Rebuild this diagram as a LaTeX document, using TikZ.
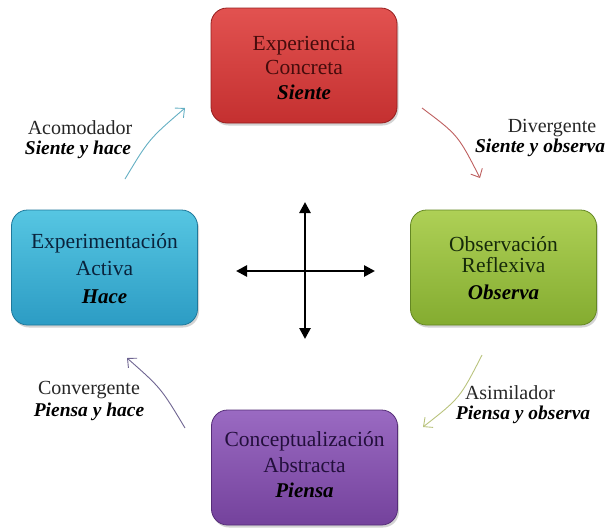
\documentclass[tikz,border=0pt]{standalone}
\usepackage{fontspec}
\setmainfont{Liberation Serif}
\usetikzlibrary{arrows.meta,shadows}
\definecolor{redT}{RGB}{226,82,80}
\definecolor{redB}{RGB}{196,48,48}
\definecolor{redD}{RGB}{150,30,30}
\definecolor{redX}{RGB}{70,12,12}
\definecolor{grnT}{RGB}{174,208,86}
\definecolor{grnB}{RGB}{132,172,48}
\definecolor{grnD}{RGB}{100,135,35}
\definecolor{grnX}{RGB}{22,42,10}
\definecolor{bluT}{RGB}{86,198,226}
\definecolor{bluB}{RGB}{44,156,196}
\definecolor{bluD}{RGB}{30,120,155}
\definecolor{bluX}{RGB}{10,35,60}
\definecolor{purT}{RGB}{154,106,194}
\definecolor{purB}{RGB}{116,66,156}
\definecolor{purD}{RGB}{85,45,120}
\definecolor{purX}{RGB}{35,15,60}
\definecolor{arrTeal}{RGB}{100,175,195}
\definecolor{arrRed}{RGB}{190,95,95}
\definecolor{arrPur}{RGB}{110,100,145}
\definecolor{arrGrn}{RGB}{185,195,125}
\tikzset{
  box/.style={rounded corners=16pt, minimum width=186pt, minimum height=115pt,
    line width=0.8pt, drop shadow={shadow xshift=1.5pt, shadow yshift=-2.5pt, opacity=0.35}},
  btx/.style={font=\fontsize{21.5}{24}\selectfont, inner sep=0pt},
  bit/.style={font=\fontsize{21}{24}\selectfont\bfseries\itshape, inner sep=0pt},
  txt/.style={font=\fontsize{20}{22}\selectfont, inner sep=0pt},
  itx/.style={font=\fontsize{19.5}{22}\selectfont\bfseries\itshape, inner sep=0pt},
  cyc/.style={line width=0.9pt, -{Straight Barb[length=7pt,width=13pt,line width=0.9pt]}},
  axis/.style={line width=2.6pt, {Triangle[length=11pt,width=11pt]}-{Triangle[length=11pt,width=11pt]}}
}
\begin{document}
\begin{tikzpicture}[x=1pt,y=-1pt]
\useasboundingbox (0,0) rectangle (609,528);
% boxes
\node[box, draw=redD, top color=redT, bottom color=redB] (ec) at (304,65.5) {};
\node[box, draw=grnD, top color=grnT, bottom color=grnB] (or) at (503.5,267.5) {};
\node[box, draw=bluD, top color=bluT, bottom color=bluB] (ea) at (104.5,267.5) {};
\node[box, draw=purD, top color=purT, bottom color=purB] (ca) at (304.5,467.5) {};
% box texts
\node[btx, text=redX] (ec1) at (304,46) {Experiencia};
\node[btx, text=redX] (ec2) at (304,67) {Concreta};
\node[bit, text=black] (ec3) at (304,92) {Siente};
\node[btx, text=grnX] (or1) at (503.5,244) {Observación};
\node[btx, text=grnX] (or2) at (503.5,265) {Reflexiva};
\node[bit, text=black] (or3) at (503.5,292) {Observa};
\node[btx, text=bluX] (ea1) at (104.5,243) {Experimentación};
\node[btx, text=bluX] (ea2) at (104.5,268) {Activa};
\node[bit, text=black] (ea3) at (104.5,297) {Hace};
\node[btx, text=purX] (ca1) at (304.5,441) {Conceptualización};
\node[btx, text=purX] (ca2) at (304.5,465) {Abstracta};
\node[bit, text=black] (ca3) at (304.5,490) {Piensa};
% style labels
\node[txt, text=black!85] (l1a) at (80,128) {Acomodador};
\node[itx, text=black] (l1b) at (78,150) {Siente y hace};
\node[txt, text=black!85] (l2a) at (552,128) {Divergente};
\node[itx, text=black] (l2b) at (540,148) {Siente y observa};
\node[txt, text=black!85] (l3a) at (89,390) {Convergente};
\node[itx, text=black] (l3b) at (89,412) {Piensa y hace};
\node[txt, text=black!85] (l4a) at (510,393) {Asimilador};
\node[itx, text=black] (l4b) at (523,415) {Piensa y observa};
% cycle arrows
\coordinate (a1s) at (125,179);
\coordinate (a1e) at (185,108);
\coordinate (a2s) at (422,108);
\coordinate (a2e) at (480,178);
\coordinate (a3s) at (185,428);
\coordinate (a3e) at (127,358);
\coordinate (a4s) at (482,355);
\coordinate (a4e) at (423,427);
\draw[cyc, arrTeal] (a1s) .. controls (149,139) .. (a1e);
\draw[cyc, arrRed] (a2s) .. controls (458,135) .. (a2e);
\draw[cyc, arrPur] (a3s) .. controls (161,388) .. (a3e);
\draw[cyc, arrGrn] (a4s) .. controls (460,398) .. (a4e);
% cross
\coordinate (vt) at (305,202);
\coordinate (vb) at (305,339);
\coordinate (hl) at (236,271);
\coordinate (hr) at (375,271);
\draw[axis] (vt) -- (vb);
\draw[axis] (hl) -- (hr);
\end{tikzpicture}
\end{document}
